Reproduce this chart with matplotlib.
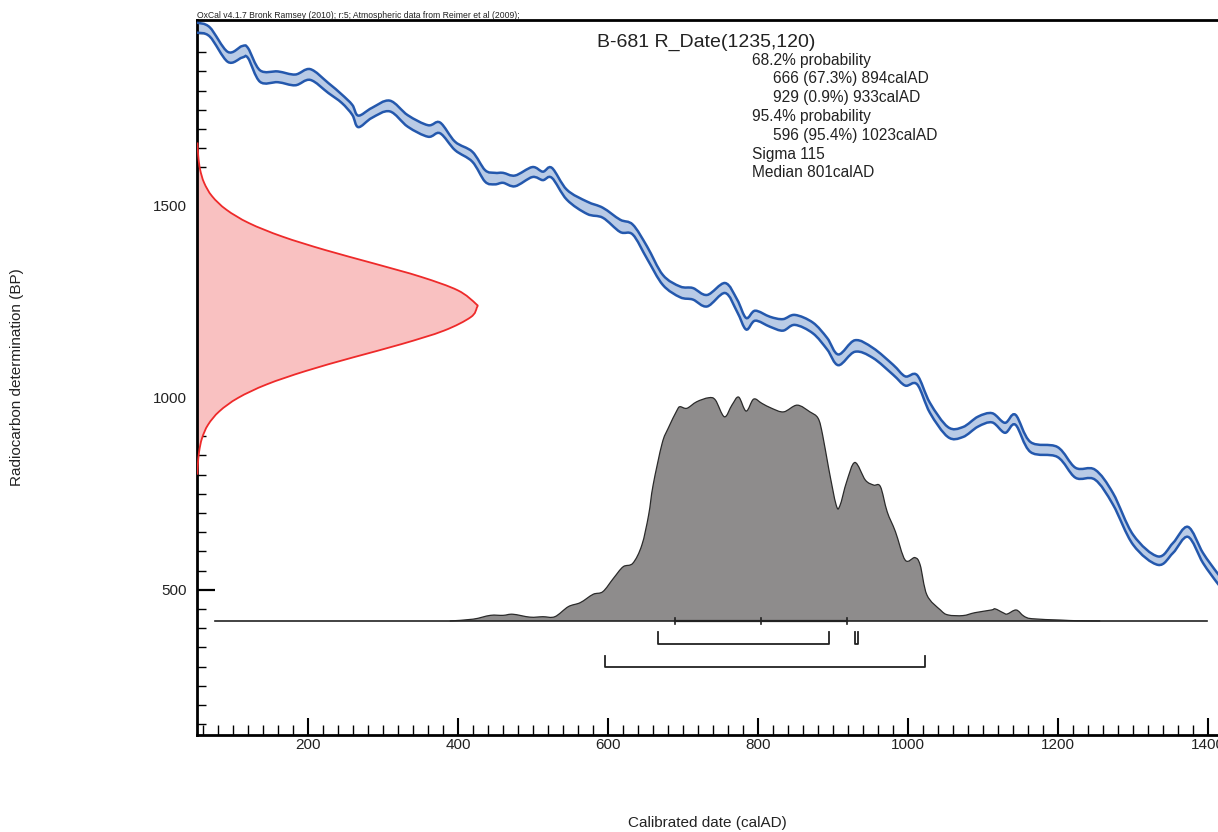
import numpy as np
import matplotlib
matplotlib.use('Agg')
import matplotlib.pyplot as plt
from matplotlib.path import Path
from matplotlib.patches import PathPatch
from matplotlib.ticker import MultipleLocator, FixedLocator

plt.rcParams['font.family'] = ['Liberation Sans', 'DejaVu Sans']

# --- calibration curve (IntCal09 band) ---
cal_ad = [52, 69, 93, 112, 120, 136, 160, 183, 203, 227, 245, 259, 267, 285,
          309, 333, 360, 376, 396, 419, 436, 449, 460, 476, 499, 513, 525,
          545, 572, 593, 616, 633, 652, 673, 696, 713, 732, 756, 772, 784,
          796, 816, 833, 849, 873, 892, 907, 929, 953, 980, 996, 1012, 1029,
          1053, 1073, 1093, 1112, 1129, 1143, 1163, 1199, 1223, 1249, 1273,
          1300, 1333, 1353, 1373, 1393, 1412, 1425]
c14_bp = [1964, 1953, 1888, 1901, 1898, 1838, 1836, 1828, 1842, 1807, 1779,
          1750, 1720, 1742, 1760, 1721, 1695, 1703, 1656, 1628, 1578, 1571,
          1573, 1565, 1588, 1578, 1586, 1529, 1495, 1482, 1448, 1438, 1378,
          1307, 1276, 1271, 1253, 1286, 1240, 1193, 1214, 1198, 1190, 1203,
          1182, 1141, 1099, 1135, 1117, 1073, 1044, 1047, 974, 911, 911, 938,
          948, 922, 943, 872, 859, 805, 800, 737, 630, 576, 609, 651, 583,
          531, 500]
c14_err = [13, 12, 13, 15, 13, 15, 14, 14, 14, 13, 11, 13, 15, 13, 14, 15,
           15, 14, 11, 13, 15, 15, 13, 14, 13, 11, 13, 13, 16, 13, 16, 13,
           16, 13, 14, 15, 15, 13, 16, 15, 13, 13, 15, 13, 14, 15, 14, 15,
           13, 13, 12, 12, 13, 13, 13, 13, 12, 13, 13, 13, 13, 13, 13, 15,
           13, 11, 13, 13, 13, 13, 13]

# --- radiocarbon determination R_Date(1235,120), relative density ---
r_bp = [1665, 1630, 1595, 1560, 1525, 1490, 1455, 1420, 1385, 1350, 1315,
        1280, 1245, 1235, 1210, 1175, 1140, 1105, 1070, 1035, 1000, 965,
        930, 895, 860, 825, 800]
r_dens = [0.0016, 0.0044, 0.011, 0.0255, 0.054, 0.105, 0.186, 0.305, 0.458,
          0.632, 0.801, 0.932, 0.9965, 1.0, 0.978, 0.8825, 0.731, 0.556,
          0.389, 0.249, 0.147, 0.080, 0.0396, 0.018, 0.0076, 0.0029, 0.0014]

# --- calibrated probability distribution, relative density ---
post_cal = [389, 420, 443, 460, 473, 496, 513, 529, 547, 563, 580, 593, 607,
            620, 633, 645, 654, 660, 672, 680, 692, 696, 705, 718, 734, 743,
            755, 765, 774, 784, 794, 805, 818, 834, 852, 869, 880, 886, 894,
            904, 909, 918, 929, 943, 954, 963, 972, 983, 996, 1009, 1016,
            1025, 1043, 1053, 1073, 1089, 1111, 1116, 1127, 1132, 1144, 1154,
            1165, 1203, 1225, 1256]
post_dens = [0, 0.008, 0.025, 0.025, 0.030, 0.017, 0.019, 0.019, 0.064, 0.082,
             0.119, 0.131, 0.19, 0.242, 0.258, 0.339, 0.473, 0.607, 0.793,
             0.86, 0.942, 0.957, 0.95, 0.979, 0.997, 0.987, 0.912, 0.964, 1.0,
             0.9375, 0.991, 0.972, 0.95, 0.934, 0.964, 0.934, 0.905, 0.83,
             0.682, 0.518, 0.515, 0.622, 0.708, 0.629, 0.607, 0.6, 0.488,
             0.399, 0.272, 0.283, 0.25, 0.116, 0.049, 0.027, 0.024, 0.037,
             0.049, 0.054, 0.036, 0.031, 0.049, 0.022, 0.010, 0.004, 0.001, 0]
post_range = (76, 1399)
mean_cal, sigma_cal = 804, 115

ranges_68 = [(666, 894), (929, 933)]
ranges_95 = [(596, 1023)]

title = "OxCal v4.1.7 Bronk Ramsey (2010); r:5; Atmospheric data from Reimer et al (2009);"
sample = "B-681 R_Date(1235,120)"
summary = [("68.2% probability", 0),
           ("666 (67.3%) 894calAD", 1),
           ("929 (0.9%) 933calAD", 1),
           ("95.4% probability", 0),
           ("596 (95.4%) 1023calAD", 1),
           ("Sigma 115", 0),
           ("Median 801calAD", 0)]

# layout
xmin, xmax = 52, 1413
ymin, ymax = 122, 1984
r_scale = 373       # width of the R_Date curve in years
post_base = 419     # BP of the distribution baseline
post_scale = 583    # height of the distribution in BP
y68, y95, hook = 360, 300, 29
ink = '#222222'


def smooth_path(x, y, start=True):
    # cubic bezier segments through the points (Catmull-Rom style handles)
    x = np.asarray(x, float)
    y = np.asarray(y, float)
    verts = [(x[0], y[0])]
    codes = [Path.MOVETO if start else Path.LINETO]
    n = len(x)
    for i in range(n - 1):
        i0, i3 = max(i - 1, 0), min(i + 2, n - 1)
        c1 = (x[i] + (x[i + 1] - x[i0]) / 6, y[i] + (y[i + 1] - y[i0]) / 6)
        c2 = (x[i + 1] - (x[i3] - x[i]) / 6, y[i + 1] - (y[i3] - y[i]) / 6)
        verts += [c1, c2, (x[i + 1], y[i + 1])]
        codes += [Path.CURVE4] * 3
    return verts, codes


def curve(ax, x, y, **kw):
    v, c = smooth_path(x, y)
    ax.add_patch(PathPatch(Path(v, c), fill=False, **kw))


def band(ax, x, lo, hi, **kw):
    v1, c1 = smooth_path(x, hi)
    v2, c2 = smooth_path(x[::-1], lo[::-1], start=False)
    v = v1 + v2 + [v1[0]]
    c = c1 + c2 + [Path.CLOSEPOLY]
    ax.add_patch(PathPatch(Path(v, c), **kw))


fig = plt.figure(figsize=(12.18, 8.32), dpi=100)
ax = fig.add_axes([197 / 1218, 1 - 735 / 832, 1 - 197 / 1218, (735 - 20) / 832])

# calibration curve
cal = np.array(cal_ad, float)
bp = np.array(c14_bp, float)
err = np.array(c14_err, float)
band(ax, cal, bp - err, bp + err, facecolor='#b9cbe6', lw=0, zorder=2)
curve(ax, cal, bp + err, edgecolor='#2458ad', lw=1.8, zorder=3)
curve(ax, cal, bp - err, edgecolor='#2458ad', lw=1.8, zorder=3)

# R_Date on the y axis
rb = np.array(r_bp, float)
rx = xmin + r_scale * np.array(r_dens)
band(ax, rb, np.full_like(rb, xmin), rx, facecolor='#f9c1c1', lw=0, zorder=2,
     transform=matplotlib.transforms.Affine2D([[0, 1, 0], [1, 0, 0], [0, 0, 1]]) + ax.transData)
curve(ax, rb, rx, edgecolor='#ee2a2a', lw=1.3, zorder=3,
      transform=matplotlib.transforms.Affine2D([[0, 1, 0], [1, 0, 0], [0, 0, 1]]) + ax.transData)

# calibrated distribution
pc = np.array(post_cal, float)
py = post_base + post_scale * np.array(post_dens)
band(ax, pc, np.full_like(pc, post_base), py, facecolor='#8e8c8c', lw=0, zorder=2)
curve(ax, pc, py, edgecolor='#2a2a2a', lw=0.9, zorder=3)
ax.plot(post_range, [post_base, post_base], color=ink, lw=1.2, zorder=4)

# mean +/- sigma
ax.plot([mean_cal - sigma_cal, mean_cal + sigma_cal], [post_base, post_base],
        color=ink, lw=1.6, zorder=4)
for xv in (mean_cal - sigma_cal, mean_cal, mean_cal + sigma_cal):
    ax.plot([xv, xv], [post_base - 8, post_base + 8], color=ink, lw=1.2, zorder=4)

# range brackets
for lo, hi in ranges_68:
    ax.plot([lo, lo, hi, hi], [y68 + hook, y68, y68, y68 + hook], color=ink, lw=1.3)
for lo, hi in ranges_95:
    ax.plot([lo, lo, hi, hi], [y95 + hook, y95, y95, y95 + hook], color=ink, lw=1.3)

ax.set_xlim(xmin, xmax)
ax.set_ylim(ymin, ymax)

ax.spines['right'].set_visible(False)
for s in ('left', 'bottom', 'top'):
    ax.spines[s].set_linewidth(2)

ax.xaxis.set_major_locator(FixedLocator([200, 400, 600, 800, 1000, 1200, 1400]))
ax.xaxis.set_minor_locator(MultipleLocator(20))
ax.yaxis.set_major_locator(FixedLocator([500, 1000, 1500]))
ax.yaxis.set_minor_locator(MultipleLocator(50))
ax.tick_params(axis='x', which='major', direction='in', length=12, width=1.5,
               labelsize=11, pad=2, top=False, labelcolor=ink)
ax.tick_params(axis='x', which='minor', direction='in', length=7, width=1, top=False)
ax.tick_params(axis='y', which='major', direction='in', length=13, width=1.6,
               labelsize=11, pad=7, right=False, labelcolor=ink)
ax.tick_params(axis='y', which='minor', direction='in', length=6.5, width=1, right=False)

ax.set_xlabel("Calibrated date (calAD)", fontsize=11, color=ink)
ax.xaxis.set_label_coords(0.5, -0.123)
ax.xaxis.label.set_va('center')
ax.set_ylabel("Radiocarbon determination (BP)", fontsize=11, color=ink)
ax.yaxis.set_label_coords(-0.176, 0.5)
ax.yaxis.label.set_va('center')

fig.text(197 / 1218, 1 - 17.5 / 832, title, fontsize=6.2, ha='left', va='baseline', color=ink)
fig.text(597 / 1218, 1 - 42 / 832, sample, fontsize=14, ha='left', va='center', color=ink)
for i, (line, indent) in enumerate(summary):
    fig.text((752 + 21 * indent) / 1218, 1 - (60 + 18.8 * i) / 832, line,
             fontsize=11.2, ha='left', va='center', color=ink)

fig.savefig('out.png', dpi=100)
